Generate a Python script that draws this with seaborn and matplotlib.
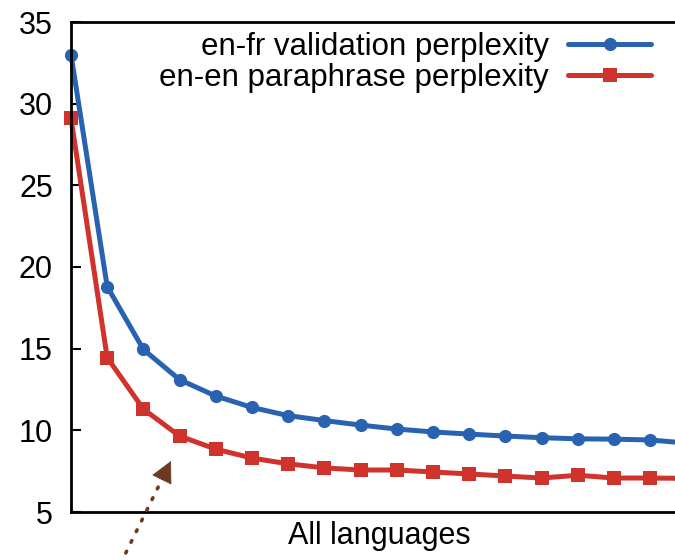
import matplotlib
matplotlib.use("Agg")
import matplotlib.pyplot as plt
import seaborn as sns
import pandas as pd
import numpy as np

# ---- data ----
steps = list(range(18))
enfr_valid = [33.0, 18.8, 14.95, 13.1, 12.1, 11.4, 10.9, 10.6, 10.32, 10.08, 9.9,
              9.77, 9.65, 9.55, 9.48, 9.46, 9.41, 9.22]
enen_para = [29.1, 14.45, 11.3, 9.65, 8.85, 8.3, 7.95, 7.7, 7.57, 7.57, 7.45,
             7.33, 7.2, 7.08, 7.25, 7.08, 7.08, 7.06]
series_names = ["en-fr validation perplexity", "en-en paraphrase perplexity"]
yticks = [5, 10, 15, 20, 25, 30, 35]
xlabel = "All languages"

sns.set_theme(style="white")
plt.rcParams["font.family"] = ["Liberation Sans", "DejaVu Sans"]
plt.rcParams["text.color"] = "black"
plt.rcParams["axes.labelcolor"] = "black"
plt.rcParams["ytick.color"] = "black"
plt.rcParams["xtick.color"] = "black"

df = pd.DataFrame({
    "step": steps * 2,
    "value": enfr_valid + enen_para,
    "series": [series_names[0]] * len(steps) + [series_names[1]] * len(steps),
})

W, H = 675, 560
FS = 22
fig = plt.figure(figsize=(W / 100, H / 100), dpi=100)
ax_left = 71 / W
ax_bottom = (H - 512) / H
ax_height = (512 - 22) / H
ax_width = 18 * 36.2 / W
ax = fig.add_axes([ax_left, ax_bottom, ax_width, ax_height])

colors = {series_names[0]: "#2a62b2", series_names[1]: "#d0322c"}
markers = {series_names[0]: "o", series_names[1]: "s"}

sns.lineplot(data=df, x="step", y="value", hue="series", style="series",
             palette=colors, markers=markers, dashes=False, linewidth=3.6,
             markersize=9.5, markeredgewidth=0, ax=ax, clip_on=False, legend=True)

ax.set_xlim(0, 18)
ax.set_ylim(5, 35)
ax.set_yticks(yticks)
ax.set_yticklabels([str(t) for t in yticks])
ax.set_xticks([])
ax.tick_params(axis="y", direction="in", length=7, width=1.5, labelsize=FS,
               pad=13, left=True, colors="black", labelcolor="black")
ax.set_ylabel("")
ax.set_xlabel(xlabel, fontsize=FS, color="black")
ax.xaxis.set_label_coords((379 - 71) / (18 * 36.2), -0.018)
ax.xaxis.label.set_va("top")

for s in ["left", "bottom", "top"]:
    ax.spines[s].set_visible(True)
    ax.spines[s].set_color("black")
    ax.spines[s].set_linewidth(2.0)
ax.spines["right"].set_visible(False)

handles, labels = ax.get_legend_handles_labels()
leg = ax.legend(handles=handles, labels=labels, loc="upper right",
                bbox_to_anchor=(651 / W, 1 - 32 / H), bbox_transform=fig.transFigure,
                frameon=False, markerfirst=False, fontsize=FS + 0.5, handlelength=2.65,
                handletextpad=0.62, labelspacing=0.03, borderpad=0, borderaxespad=0)
for t in leg.get_texts():
    t.set_color("black")

# dotted annotation arrow: dotted shaft + solid head
tip = np.array([171.0, 461.0])
tail = np.array([110.0, 585.0])
u = (tip - tail) / np.linalg.norm(tip - tail)
brown = "#6b3a1f"
base = tip - u * 10
ax.annotate("", xy=(base[0] / W, 1 - base[1] / H), xycoords="figure fraction",
            xytext=(tail[0] / W, 1 - tail[1] / H), textcoords="figure fraction",
            arrowprops=dict(arrowstyle="-", color=brown, linestyle=(0, (0.5, 2.8)),
                            linewidth=2.6, shrinkA=0, shrinkB=0, capstyle="round"),
            annotation_clip=False)
hs = tip - u * 3
ax.annotate("", xy=(tip[0] / W, 1 - tip[1] / H), xycoords="figure fraction",
            xytext=(hs[0] / W, 1 - hs[1] / H), textcoords="figure fraction",
            arrowprops=dict(arrowstyle="-|>,head_length=0.55,head_width=0.28",
                            color=brown, linewidth=0.5, mutation_scale=26,
                            shrinkA=0, shrinkB=0),
            annotation_clip=False)

fig.savefig("out.png", dpi=100)
